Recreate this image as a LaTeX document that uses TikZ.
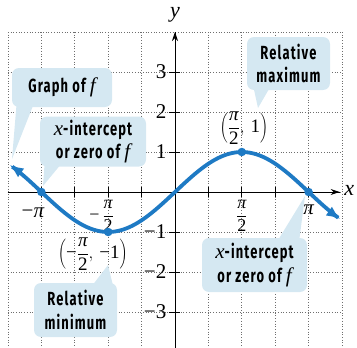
\documentclass[tikz,border=0pt]{standalone}
\usepackage{fontspec}
\usetikzlibrary{arrows.meta}
\newfontfamily\callfont[FakeStretch=0.68,LetterSpace=6]{Fira Sans}
\newfontfamily\serfont{Liberation Serif}
\definecolor{curveblue}{RGB}{30,122,196}
\definecolor{callbg}{RGB}{213,232,242}
\definecolor{gridgray}{RGB}{110,110,110}
\newcommand{\itx}{{\serfont\mdseries\itshape\fontsize{21}{23}\selectfont x}}
\newcommand{\itf}{{\serfont\mdseries\itshape\fontsize{21}{23}\selectfont f}}
\newcommand{\pii}{{\serfont\itshape π}}
\newcommand{\mfrac}[2]{{\displaystyle\frac{\mbox{#1}}{\mbox{\serfont #2}}}}
\tikzset{
  gridline/.style={gridgray, line width=0.7pt, dotted},
  axisline/.style={black, line width=0.9pt},
  tickline/.style={black, line width=0.9pt},
  curveline/.style={curveblue, line width=3.8pt, {Latex[length=14pt,width=11pt]}-{Latex[length=14pt,width=11pt]}},
  dotmark/.style={circle, fill=curveblue, inner sep=0pt, minimum size=8.5pt},
  callout/.style={fill=callbg, rounded corners=7pt, inner sep=0pt, align=center,
    font=\callfont\bfseries\fontsize{19}{23.5}\selectfont},
  pointer/.style={fill=callbg},
  ticklabel/.style={inner sep=0pt, font=\serfont\fontsize{21}{23}\selectfont},
  ptlabel/.style={inner sep=0pt, font=\serfont\fontsize{19}{21}\selectfont}
}
\begin{document}
\begin{tikzpicture}[x=1pt,y=-1pt]
\useasboundingbox (0,0) rectangle (357,348);
\begin{scope}
\clip (0,0) rectangle (357,348);
\begin{scope}[shift={(175,192)}, x=42.53pt, y=40pt]
  % grid
  \foreach \i in {-5,...,5} {
    \draw[gridline] ({\i*pi/4},4) -- ({\i*pi/4},-4.2);
  }
  \foreach \j in {-4,...,4} {
    \draw[gridline] ({-5*pi/4},\j) -- ({5*pi/4},\j);
  }
  % axes
  \draw[axisline] ({-5*pi/4},0) coordinate (xl) -- (3.87,0) coordinate (xr);
  \draw[axisline, -{Stealth[length=9pt,width=6pt]}] (xl) -- (xr);
  \draw[axisline] (0,-4.2) coordinate (yb) -- (0,4) coordinate (yt);
  \draw[axisline, -{Stealth[length=9pt,width=6pt]}] (yb) -- (yt);
  \node[inner sep=0pt, font=\serfont\itshape\fontsize{22}{24}\selectfont] (xlab) at (4.1,0.05) {x};
  \node[inner sep=0pt, font=\serfont\itshape\fontsize{22}{24}\selectfont] (ylab) at (0.0,4.43) {y};
  % ticks
  \foreach \i in {-4,...,-1,1,2,...,4} {
    \draw[tickline] ({\i*pi/4},-0.125) -- ({\i*pi/4},0.125);
  }
  \foreach \j in {-3,...,-1,1,2,3} {
    \draw[tickline] (-0.15,\j) -- (0.12,\j);
  }
  % tick labels
  \node[ticklabel] (lxmpi) at ({-pi-0.06},-0.52) {\makebox[0pt][r]{−}\pii};
  \node[ticklabel, font=\serfont\fontsize{18}{20}\selectfont] (lxmhp) at ({-pi/2},-0.6) {\makebox[0pt][r]{−\,}$\mfrac{\pii}{2}$};
  \node[ticklabel, font=\serfont\fontsize{18}{20}\selectfont] (lxhp) at ({pi/2},-0.6) {$\mfrac{\pii}{2}$};
  \node[ticklabel] (lxpi) at ({pi},-0.45) {\pii};
  \node[ticklabel, anchor=east] (ly3) at (-0.2,3) {3};
  \node[ticklabel, anchor=east] (ly2) at (-0.2,2) {2};
  \node[ticklabel, anchor=east] (ly1) at (-0.2,1) {1};
  \node[ticklabel, anchor=east] (lym1) at (-0.2,-1) {−1};
  \node[ticklabel, anchor=east] (lym2) at (-0.2,-2) {−2};
  \node[ticklabel, anchor=east] (lym3) at (-0.2,-3) {−3};
  % curve
  \draw[curveline] plot[domain=-3.89:3.89, samples=120, smooth] (\x,{sin(\x r)});
  \node[dotmark] (pmpi) at ({-pi},0) {};
  \node[dotmark] (pmin) at ({-pi/2},-1) {};
  \node[dotmark] (pmax) at ({pi/2},1) {};
  \node[dotmark] (ppi) at ({pi},0) {};
  % point labels
  \node[ptlabel] (lmax) at ({pi/2+0.05},1.6) {$\left(\mfrac{\pii}{2},\mbox{\,1}\right)$};
  \node[ptlabel] (lmin) at ({-pi/2-0.36},-1.55) {$\left(\mbox{−}\mfrac{\pii}{2},\mbox{\,−1}\right)$};
\end{scope}
\end{scope}
% callouts (outer pixel-like coordinates)
\coordinate (t1) at (12,159);
\coordinate (t2) at (43,186);
\coordinate (t3) at (258,108);
\coordinate (t4) at (108,265);
\coordinate (t5) at (305,196);
\node[callout, minimum width=100pt, minimum height=39pt] (c1) at (62,87.5) {Graph of \itf};
\node[callout, minimum width=106pt, minimum height=50pt] (c2) at (93,141.5) {\itx-intercept\\or zero of \itf};
\node[callout, minimum width=83pt, minimum height=53pt] (c3) at (288.5,63.5) {Relative\\maximum};
\node[callout, minimum width=83pt, minimum height=54pt] (c4) at (75.5,310) {Relative\\minimum};
\node[callout, minimum width=105pt, minimum height=54pt] (c5) at (254.5,265) {\itx-intercept\\or zero of \itf};
\fill[pointer] ([xshift=5pt,yshift=6pt]c1.south west) -- (t1) -- ([xshift=23pt,yshift=6pt]c1.south west) -- cycle;
\fill[pointer] ([xshift=5pt,yshift=6pt]c2.south west) -- (t2) -- ([xshift=24pt,yshift=6pt]c2.south west) -- cycle;
\fill[pointer] ([xshift=6pt,yshift=6pt]c3.south west) -- (t3) -- ([xshift=25pt,yshift=6pt]c3.south west) -- cycle;
\fill[pointer] ([xshift=56pt,yshift=-6pt]c4.north west) -- (t4) -- ([xshift=80pt,yshift=-6pt]c4.north west) -- cycle;
\fill[pointer] ([xshift=74pt,yshift=-6pt]c5.north west) -- (t5) -- ([xshift=97pt,yshift=-6pt]c5.north west) -- cycle;
\end{tikzpicture}
\end{document}
